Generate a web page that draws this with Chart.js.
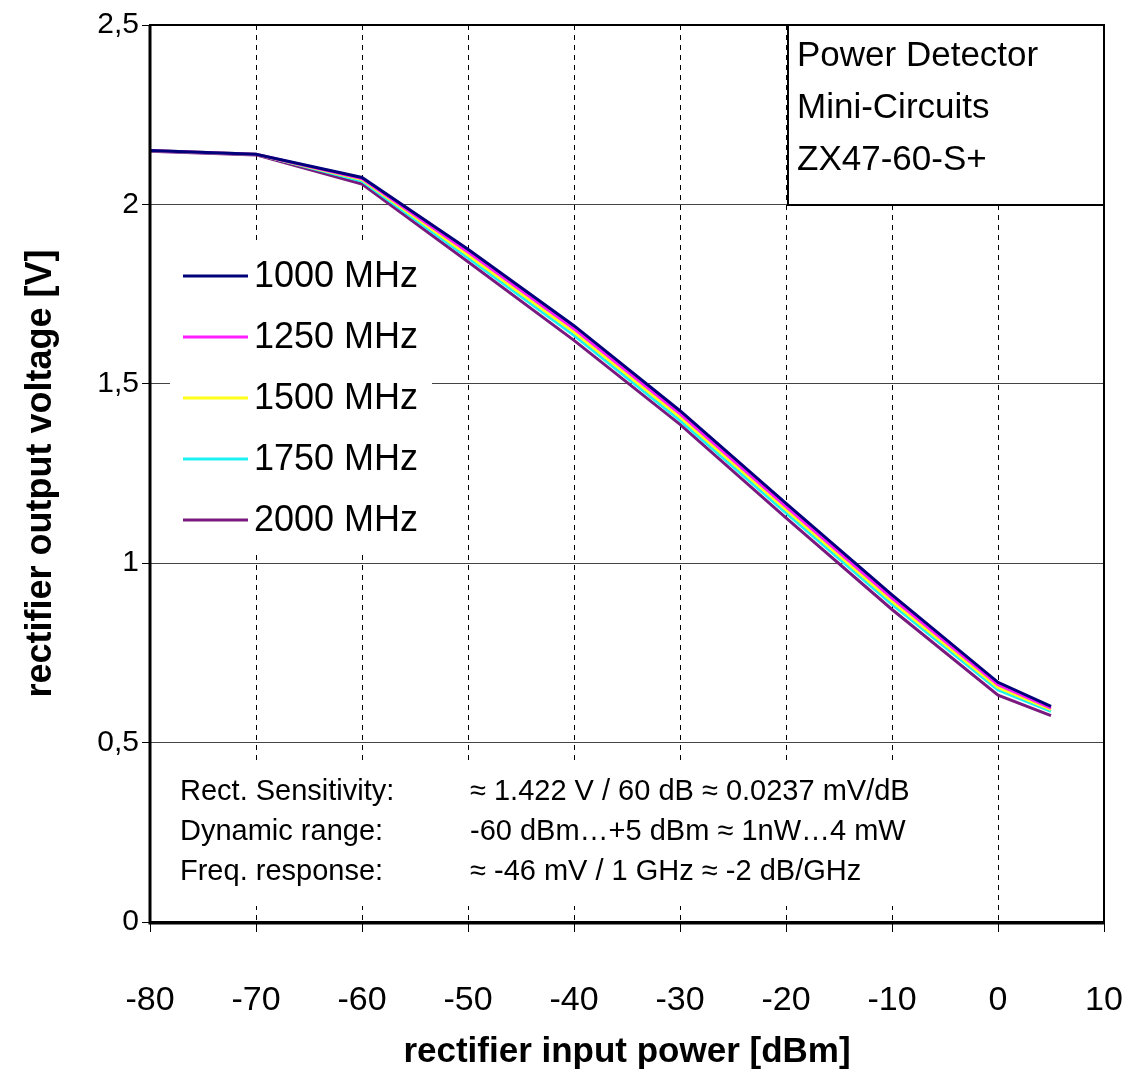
<!DOCTYPE html>
<html>
<head>
<meta charset="utf-8">
<script src="https://cdn.jsdelivr.net/npm/chart.js@4/dist/chart.umd.min.js"></script>
<style>
html,body{margin:0;padding:0;background:#fff;}
#wrap{width:1128px;height:1083px;}
</style>
</head>
<body>
<div id="wrap"><canvas id="c" width="1128" height="1083"></canvas></div>
<script>
// ---- data ----
const powerDbm = [-80, -70, -60, -50, -40, -30, -20, -10, 0, 5];
const v1000 = [2.150, 2.140, 2.075, 1.875, 1.662, 1.425, 1.167, 0.912, 0.668, 0.601];
const v1250 = [2.150, 2.140, 2.072, 1.867, 1.653, 1.416, 1.158, 0.903, 0.661, 0.596];
const v1500 = [2.150, 2.140, 2.069, 1.859, 1.644, 1.407, 1.149, 0.894, 0.654, 0.592];
const v1750 = [2.150, 2.140, 2.065, 1.851, 1.635, 1.398, 1.140, 0.885, 0.647, 0.587];
const v2000 = [2.148, 2.138, 2.057, 1.840, 1.621, 1.387, 1.126, 0.871, 0.632, 0.575];
const seriesLabels = ['1000 MHz', '1250 MHz', '1500 MHz', '1750 MHz', '2000 MHz'];
const seriesColors = ['#00007a', '#ff1cff', '#ffff1a', '#1cf2f2', '#7a1a7e'];
const xTicks = [-80, -70, -60, -50, -40, -30, -20, -10, 0, 10];
const yTicks = [0, 0.5, 1, 1.5, 2, 2.5];
const yTickLabels = ['0', '0,5', '1', '1,5', '2', '2,5'];
const xTitle = 'rectifier input power [dBm]';
const yTitle = 'rectifier output voltage [V]';
const infoLines = ['Power Detector', 'Mini-Circuits', 'ZX47-60-S+'];
const noteKeys = ['Rect. Sensitivity:', 'Dynamic range:', 'Freq. response:'];
const noteVals = ['\u2248 1.422 V / 60 dB \u2248 0.0237 mV/dB', '-60 dBm\u2026+5 dBm \u2248 1nW\u20264 mW', '\u2248 -46 mV / 1 GHz \u2248 -2 dB/GHz'];

const FONT = "'Liberation Sans', Arial, Helvetica, sans-serif";
const series = [v1000, v1250, v1500, v1750, v2000];

const datasets = series.map((vals, i) => ({
  label: seriesLabels[i],
  data: powerDbm.map((p, j) => ({x: p, y: vals[j]})),
  borderColor: seriesColors[i],
  backgroundColor: seriesColors[i],
  borderWidth: 3,
  pointRadius: 0,
  tension: 0,
  fill: false
}));

const decorPlugin = {
  id: 'decor',
  beforeDatasetsDraw(chart) {
    const ctx = chart.ctx, a = chart.chartArea;
    ctx.save();
    ctx.fillStyle = '#fff';
    ctx.fillRect(a.left + 20, a.top + 220, 262, 305);
    ctx.fillRect(a.left + 15, a.bottom - 160, 795, 144);
    ctx.fillRect(a.left + 638, a.top, a.right - a.left - 638, 180);
    ctx.restore();
  },
  afterDatasetsDraw(chart) {
    const ctx = chart.ctx, a = chart.chartArea;
    ctx.save();
    ctx.strokeStyle = '#000';
    ctx.lineWidth = 2;
    ctx.strokeRect(a.left, a.top, a.right - a.left, a.bottom - a.top);
    ctx.lineWidth = 3;
    ctx.beginPath();
    ctx.moveTo(a.left, a.top); ctx.lineTo(a.left, a.bottom + 1); ctx.lineTo(a.right, a.bottom + 1);
    ctx.stroke();
    ctx.lineWidth = 2;
    const bx = a.left + 638, bw = a.right - bx;
    ctx.strokeRect(bx, a.top, bw, 180);
    ctx.fillStyle = '#000';
    ctx.font = '35px ' + FONT;
    ctx.textBaseline = 'middle';
    ctx.textAlign = 'left';
    infoLines.forEach((t, i) => ctx.fillText(t, bx + 9, a.top + 31 + i * 52));
    chart.data.datasets.forEach((ds, i) => {
      const y = a.top + 251 + i * 61;
      ctx.strokeStyle = ds.borderColor;
      ctx.lineWidth = 3;
      ctx.beginPath();
      ctx.moveTo(a.left + 33, y); ctx.lineTo(a.left + 98, y);
      ctx.stroke();
      ctx.fillStyle = '#000';
      ctx.font = '36px ' + FONT;
      ctx.fillText(ds.label, a.left + 104, y + 1);
    });
    ctx.font = '29px ' + FONT;
    noteKeys.forEach((t, i) => {
      const y = a.bottom - 130 + i * 40;
      ctx.fillText(t, a.left + 30, y);
      ctx.fillText(noteVals[i], a.left + 320, y);
    });
    ctx.restore();
  }
};

new Chart(document.getElementById('c'), {
  type: 'line',
  data: {datasets},
  plugins: [decorPlugin],
  options: {
    responsive: false,
    animation: false,
    devicePixelRatio: 1,
    layout: {padding: {left: 0, top: 25, right: 24, bottom: 0}},
    plugins: {legend: {display: false}, tooltip: {enabled: false}},
    scales: {
      x: {
        type: 'linear', min: -80, max: 10,
        afterFit(s) { s.height = 161; s.paddingLeft = 0; s.paddingRight = 0; },
        afterBuildTicks(s) { s.ticks = xTicks.map(v => ({value: v})); },
        ticks: {color: '#000', font: {family: FONT, size: 34}, padding: 48, maxRotation: 0},
        grid: {color: '#000', lineWidth: 1, tickLength: 10, tickColor: '#000', tickWidth: 1},
        border: {display: false, dash: [5, 5]},
        title: {display: true, text: xTitle, color: '#000', font: {family: FONT, size: 35, weight: 'bold'}, padding: {top: 0, bottom: 10}}
      },
      y: {
        type: 'linear', min: 0, max: 2.5,
        afterFit(s) { s.width = 150; s.paddingTop = 0; s.paddingBottom = 0; },
        afterBuildTicks(s) { s.ticks = yTicks.map(v => ({value: v})); },
        ticks: {color: '#000', font: {family: FONT, size: 30}, padding: 3,
          callback: (v) => { const k = yTicks.indexOf(v); return k >= 0 ? yTickLabels[k] : ''; }},
        grid: {color: '#444', lineWidth: 1, tickLength: 8, tickColor: '#000'},
        border: {display: false},
        title: {display: true, text: yTitle, color: '#000', font: {family: FONT, size: 36, weight: 'bold'}, padding: {top: 19, bottom: 0}}
      }
    }
  }
});
</script>
</body>
</html>
